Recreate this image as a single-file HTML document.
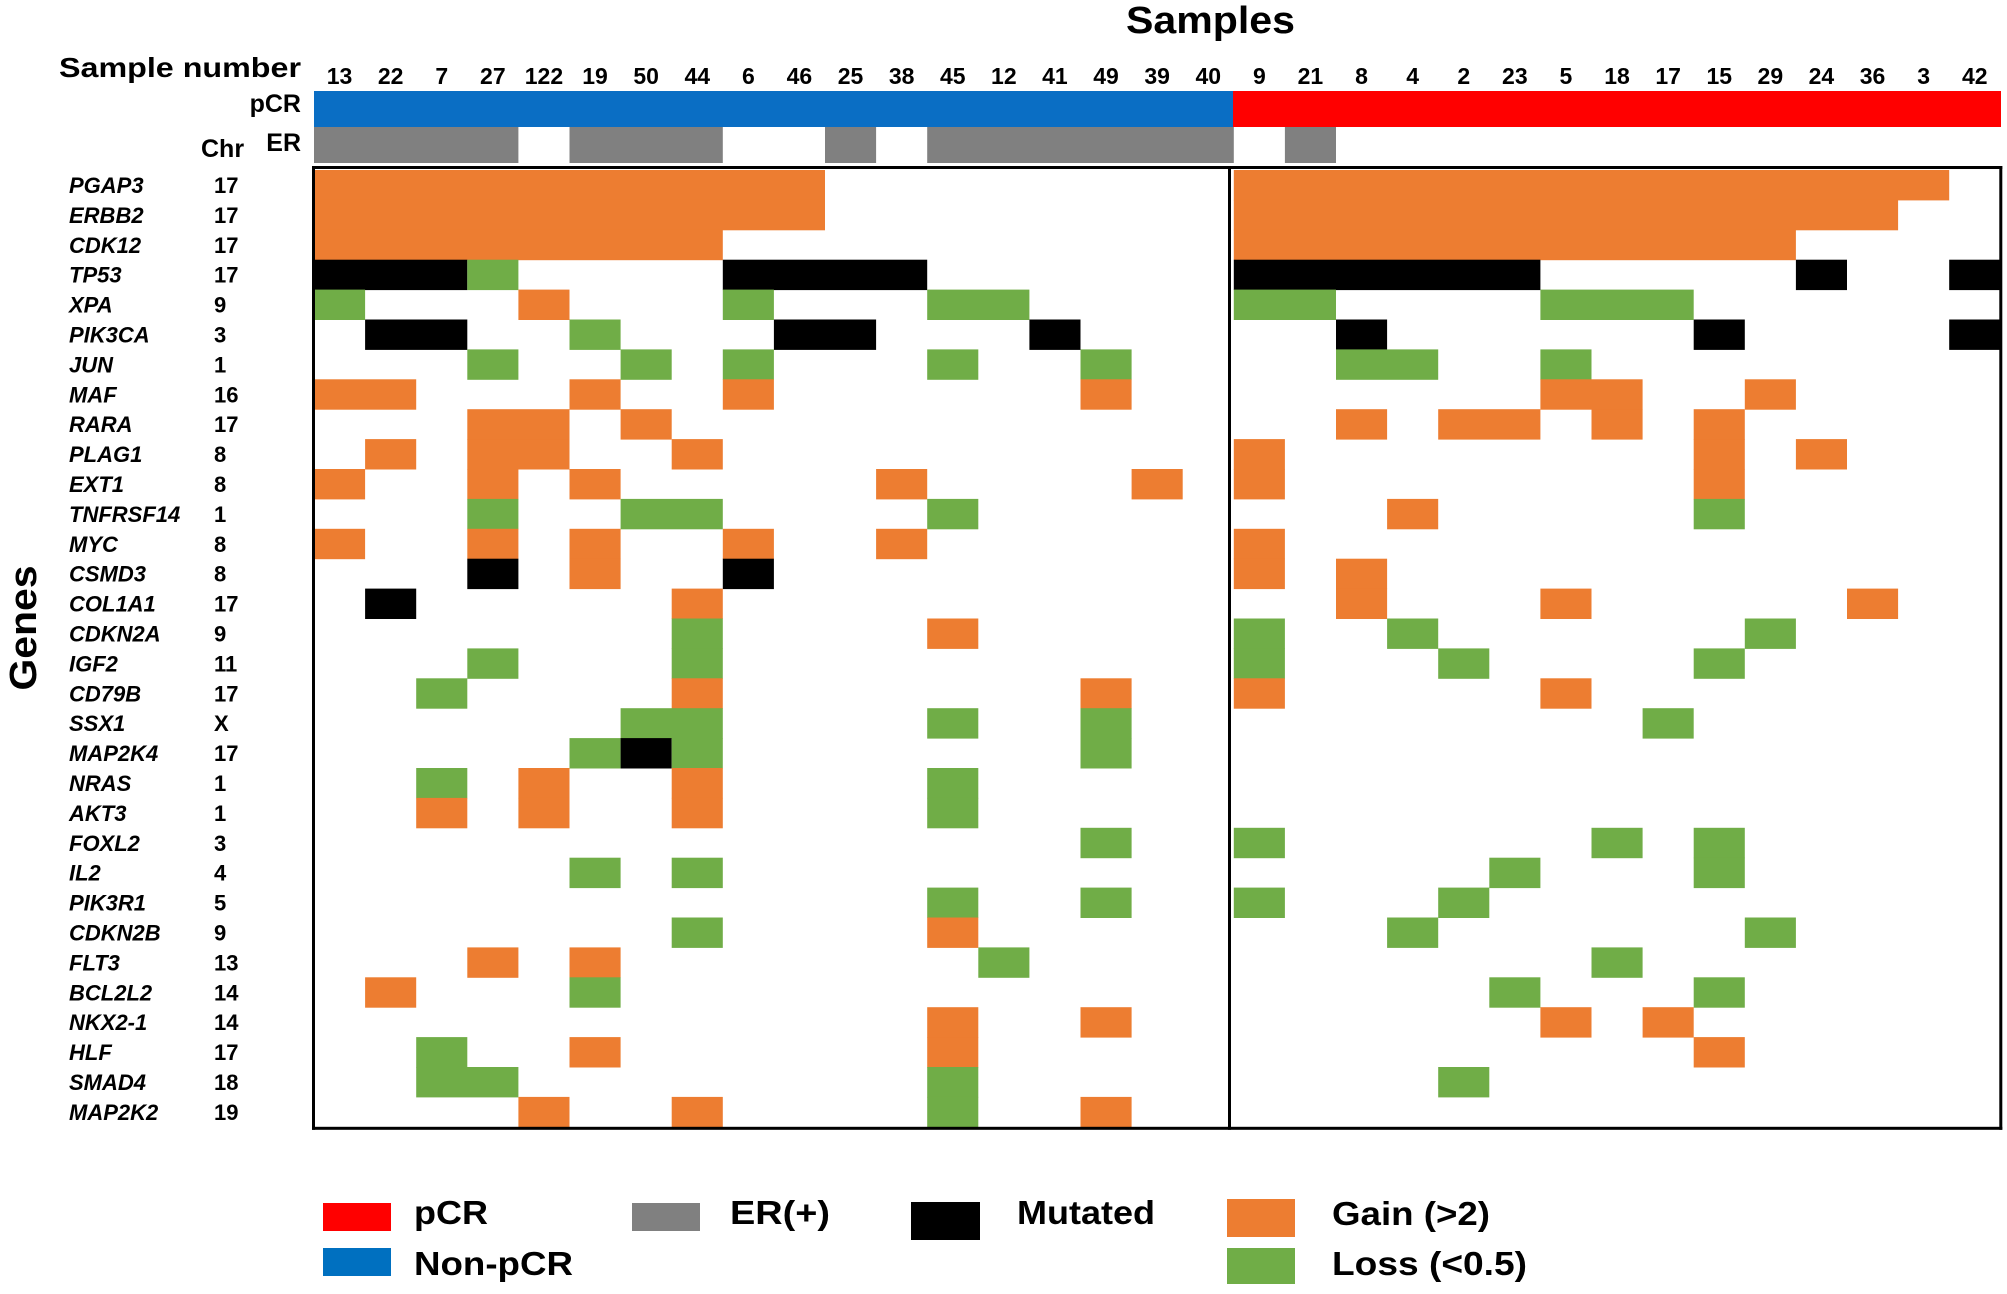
<!DOCTYPE html>
<html><head><meta charset="utf-8"><style>html,body{margin:0;padding:0;background:#fff}svg{display:block}</style></head>
<body>
<svg id="s" width="2007" height="1294" viewBox="0 0 2007 1294" xmlns="http://www.w3.org/2000/svg" font-family="'Liberation Sans', Arial, sans-serif" font-weight="bold">
<rect width="2007" height="1294" fill="#fff"/>
<text x="1126" y="33" font-size="38" textLength="169" lengthAdjust="spacingAndGlyphs">Samples</text>
<text x="59" y="77" font-size="28" textLength="242" lengthAdjust="spacingAndGlyphs">Sample number</text>
<text x="301" y="112" font-size="25" text-anchor="end">pCR</text>
<text x="301" y="151" font-size="25" text-anchor="end">ER</text>
<text x="201" y="157" font-size="25">Chr</text>
<text transform="translate(36,628) rotate(-90)" font-size="38" text-anchor="middle" textLength="125" lengthAdjust="spacingAndGlyphs">Genes</text>
<rect x="314" y="91" width="919" height="36" fill="#0A6EC4"/>
<rect x="1233" y="91" width="768" height="36" fill="#FF0000"/>
<g id="grid"></g>
<g id="labels"></g>
<rect x="323" y="1203" width="68" height="28" fill="#FF0000"/>
<rect x="323" y="1248" width="68" height="28" fill="#0070C0"/>
<rect x="632" y="1203" width="68" height="28" fill="#808080"/>
<rect x="911" y="1202" width="69" height="38" fill="#000"/>
<rect x="1227" y="1199" width="68" height="38" fill="#ED7D31"/>
<rect x="1227" y="1248" width="68" height="36" fill="#70AD47"/>
<g font-size="33">
<text x="414" y="1224" textLength="74" lengthAdjust="spacingAndGlyphs">pCR</text>
<text x="414" y="1275" textLength="159" lengthAdjust="spacingAndGlyphs">Non-pCR</text>
<text x="730" y="1224" textLength="100" lengthAdjust="spacingAndGlyphs">ER(+)</text>
<text x="1017" y="1224" textLength="138" lengthAdjust="spacingAndGlyphs">Mutated</text>
<text x="1332" y="1225" textLength="158" lengthAdjust="spacingAndGlyphs">Gain (&gt;2)</text>
<text x="1332" y="1275" textLength="195" lengthAdjust="spacingAndGlyphs">Loss (&lt;0.5)</text>
</g>
</svg>
<script>
(function(){
var NS="http://www.w3.org/2000/svg";
var g=document.getElementById("grid"), L=document.getElementById("labels");
var X0=314, CW=51.1, Y0=170, RH=29.9;
function rect(x,y,w,h,f,p){var r=document.createElementNS(NS,"rect");r.setAttribute("x",x);r.setAttribute("y",y);r.setAttribute("width",w);r.setAttribute("height",h);r.setAttribute("fill",f);(p||g).appendChild(r);}
function text(x,y,s,t,a,st){var e=document.createElementNS(NS,"text");e.setAttribute("x",x);e.setAttribute("y",y);e.setAttribute("font-size",s);if(a)e.setAttribute("text-anchor",a);if(st)e.setAttribute("font-style",st);e.textContent=t;L.appendChild(e);}
var samples=["13","22","7","27","122","19","50","44","6","46","25","38","45","12","41","49","39","40","9","21","8","4","2","23","5","18","17","15","29","24","36","3","42"];
samples.forEach(function(s,i){text(X0+CW*i+CW/2,84,23,s,"middle");});
[[0,3],[5,7],[10,10],[12,17],[19,19]].forEach(function(r){rect(X0+CW*r[0],127,CW*(r[1]-r[0]+1),36,"#808080");});
var C={O:"#ED7D31",G:"#70AD47",K:"#000"};
var genes=[["PGAP3","17","O0-9 O18-31"],["ERBB2","17","O0-9 O18-30"],["CDK12","17","O0-7 O18-28"],
["TP53","17","K0-2 G3 K8-11 K18-23 K29 K32"],["XPA","9","G0 O4 G8 G12-13 G18-19 G24-26"],
["PIK3CA","3","K1-2 G5 K9-10 K14 K20 K27 K32"],["JUN","1","G3 G6 G8 G12 G15 G20-21 G24"],
["MAF","16","O0-1 O5 O8 O15 O24-25 O28"],["RARA","17","O3-4 O6 O20 O22-23 O25 O27"],
["PLAG1","8","O1 O3-4 O7 O18 O27 O29"],["EXT1","8","O0 O3 O5 O11 O16 O18 O27"],
["TNFRSF14","1","G3 G6-7 G12 O21 G27"],["MYC","8","O0 O3 O5 O8 O11 O18"],
["CSMD3","8","K3 O5 K8 O18 O20"],["COL1A1","17","K1 O7 O20 O24 O30"],
["CDKN2A","9","G7 O12 G18 G21 G28"],["IGF2","11","G3 G7 G18 G22 G27"],
["CD79B","17","G2 O7 O15 O18 O24"],["SSX1","X","G6-7 G12 G15 G26"],
["MAP2K4","17","G5 K6 G7 G15"],["NRAS","1","G2 O4 O7 G12"],["AKT3","1","O2 O4 O7 G12"],
["FOXL2","3","G15 G18 G25 G27"],["IL2","4","G5 G7 G23 G27"],["PIK3R1","5","G12 G15 G18 G22"],
["CDKN2B","9","G7 O12 G21 G28"],["FLT3","13","O3 O5 G13 G25"],["BCL2L2","14","O1 G5 G23 G27"],
["NKX2-1","14","O12 O15 O24 O26"],["HLF","17","G2 O5 O12 O27"],["SMAD4","18","G2-3 G12 G22"],
["MAP2K2","19","O4 O7 G12 O15"]];
genes.forEach(function(gn,r){
 var y=Y0+RH*r;
 text(69,y+RH/2+8,22,gn[0],null,"italic");
 text(214,y+RH/2+8,22,gn[1]);
 gn[2].split(" ").forEach(function(t){
  var c=C[t[0]], p=t.slice(1).split("-"), a=+p[0], b=p.length>1?+p[1]:a;
  rect(X0+CW*a,y,CW*(b-a+1),RH+0.5,c);
 });
});
var Yb=Y0+RH*32, R=X0+CW*33;
rect(312,166,3,Yb-166+3,"#000");
rect(312,166,R-312+2,3,"#000");
rect(R-1,166,3,Yb-166+3,"#000");
rect(312,Yb,R-312+2,3,"#000");
rect(1228,166,3,Yb-166+3,"#000");
})();
</script>
</body></html>
